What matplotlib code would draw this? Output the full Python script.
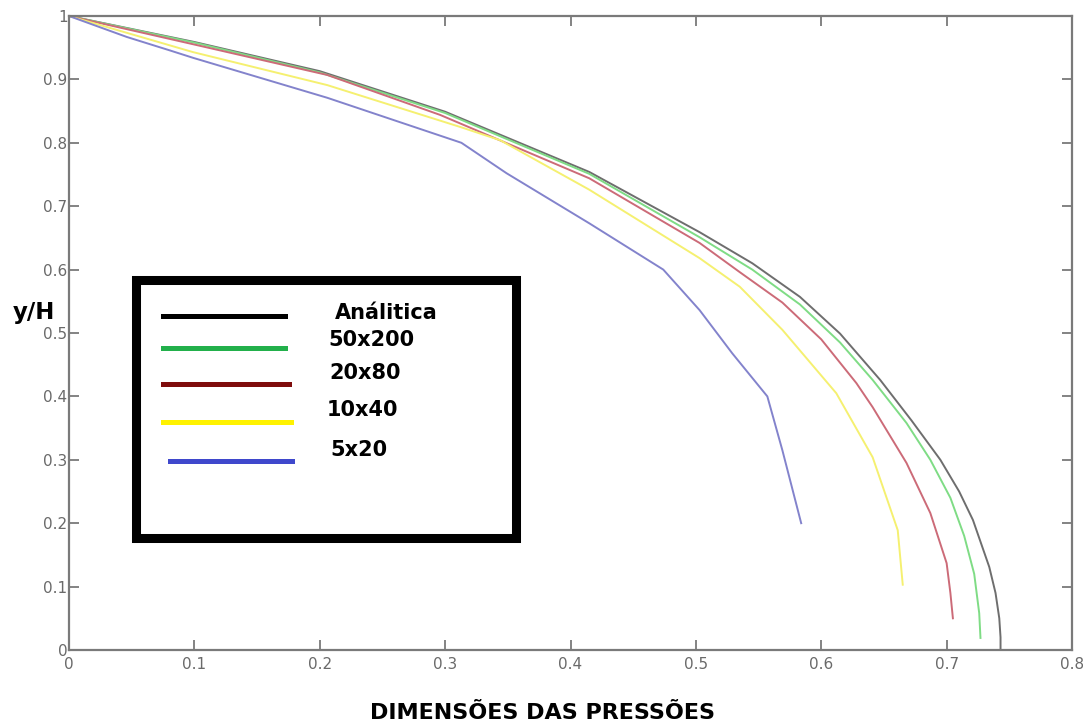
import matplotlib
matplotlib.use("Agg")
import matplotlib.pyplot as plt
from matplotlib.lines import Line2D
from matplotlib.patches import Rectangle

W, H = 1083, 727

# curves (x = pressure, y = y/H)
black_x = [0, 0.1, 0.2, 0.3, 0.415, 0.503, 0.545, 0.583, 0.615, 0.647, 0.672, 0.695, 0.710, 0.721, 0.734, 0.739, 0.742, 0.743, 0.743]
black_y = [1, 0.959, 0.913, 0.849, 0.754, 0.659, 0.610, 0.557, 0.499, 0.426, 0.362, 0.300, 0.250, 0.205, 0.131, 0.090, 0.050, 0.020, 0]

green_x = [0, 0.1, 0.2, 0.3, 0.415, 0.503, 0.545, 0.583, 0.615, 0.641, 0.668, 0.687, 0.703, 0.714, 0.722, 0.726, 0.727]
green_y = [1, 0.958, 0.911, 0.847, 0.751, 0.651, 0.600, 0.545, 0.485, 0.426, 0.358, 0.300, 0.240, 0.180, 0.120, 0.058, 0.019]

red_x = [0, 0.1, 0.206, 0.296, 0.415, 0.503, 0.535, 0.569, 0.600, 0.628, 0.641, 0.668, 0.687, 0.700, 0.703, 0.705]
red_y = [1, 0.955, 0.907, 0.844, 0.744, 0.642, 0.596, 0.548, 0.490, 0.421, 0.383, 0.295, 0.216, 0.137, 0.090, 0.050]

yellow_x = [0, 0.099, 0.206, 0.312, 0.344, 0.415, 0.503, 0.535, 0.569, 0.612, 0.641, 0.661, 0.665]
yellow_y = [1, 0.943, 0.891, 0.825, 0.804, 0.726, 0.618, 0.573, 0.505, 0.405, 0.304, 0.189, 0.103]

blue_x = [0, 0.046, 0.080, 0.099, 0.206, 0.313, 0.349, 0.415, 0.474, 0.503, 0.529, 0.557, 0.569, 0.584]
blue_y = [1, 0.967, 0.946, 0.934, 0.871, 0.800, 0.752, 0.673, 0.600, 0.536, 0.468, 0.400, 0.315, 0.200]

labels = ["Análitica", "50x200", "20x80", "10x40", "5x20"]
legend_colors = ["#000000", "#22b04b", "#7f0c0c", "#fff200", "#3f48cc"]

xticks = [0, 0.1, 0.2, 0.3, 0.4, 0.5, 0.6, 0.7, 0.8]
yticks = [0, 0.1, 0.2, 0.3, 0.4, 0.5, 0.6, 0.7, 0.8, 0.9, 1]


def fx(x):
    return x / W


def fy(y):
    return 1 - y / H


fig = plt.figure(figsize=(W / 100, H / 100), dpi=100)
ax = fig.add_axes([fx(69), fy(650), (1072 - 69) / W, (650 - 16) / H])

lw = 1.4
ax.plot(black_x, black_y, color="#6e6e6e", lw=lw)
ax.plot(green_x, green_y, color="#7fdc85", lw=lw)
ax.plot(red_x, red_y, color="#cc6b78", lw=lw)
ax.plot(yellow_x, yellow_y, color="#f5f070", lw=lw)
ax.plot(blue_x, blue_y, color="#8383cc", lw=lw)

ax.set_xlim(0, 0.8)
ax.set_ylim(0, 1)
ax.set_xticks(xticks)
ax.set_yticks(yticks)
ax.set_xticklabels(["0" if t == 0 else "%g" % t for t in xticks])
ax.set_yticklabels(["0" if t == 0 else "%g" % t for t in yticks])

for s in ax.spines.values():
    s.set_color("#7a7a7a")
    s.set_linewidth(1.6)
ax.tick_params(direction="in", top=True, right=True, length=7, width=1.3,
               color="#7a7a7a", labelcolor="#6a6a6a", labelsize=11)
ax.tick_params(axis="y", pad=1)
ax.tick_params(axis="x", pad=5)
for t in ax.get_xticklabels() + ax.get_yticklabels():
    t.set_family(["Liberation Sans Narrow", "DejaVu Sans"])

bold_font = ["DejaVu Sans"]

# axis titles
fig.text(fx(543), fy(713), "DIMENSÕES DAS PRESSÕES", ha="center", va="center",
         fontsize=16, fontweight="bold", family=bold_font)
fig.text(fx(34), fy(313), "y/H", ha="center", va="center",
         fontsize=16.5, fontweight="bold", family=bold_font)

# hand-made legend box
fig.patches.append(Rectangle((fx(135.5), fy(537.5)), (515.5 - 135.5) / W, (537.5 - 279.5) / H,
                             transform=fig.transFigure, fill=False, edgecolor="black",
                             linewidth=6.5, joinstyle="miter"))
handle_y = [316, 348, 384, 422, 461]
handle_x0 = [163, 163, 163, 163, 170]
handle_x1 = [285, 285, 289, 291, 292]
text_pos = [(335, 313), (328, 340), (329, 373), (327, 410), (330, 450)]
for i, lab in enumerate(labels):
    fig.lines.append(Line2D([fx(handle_x0[i]), fx(handle_x1[i])], [fy(handle_y[i]), fy(handle_y[i])],
                            transform=fig.transFigure, color=legend_colors[i], lw=3.6))
    fig.text(fx(text_pos[i][0]), fy(text_pos[i][1]), lab, ha="left", va="center",
             fontsize=15, fontweight="bold", family=bold_font)

fig.savefig("out.png", dpi=100)
